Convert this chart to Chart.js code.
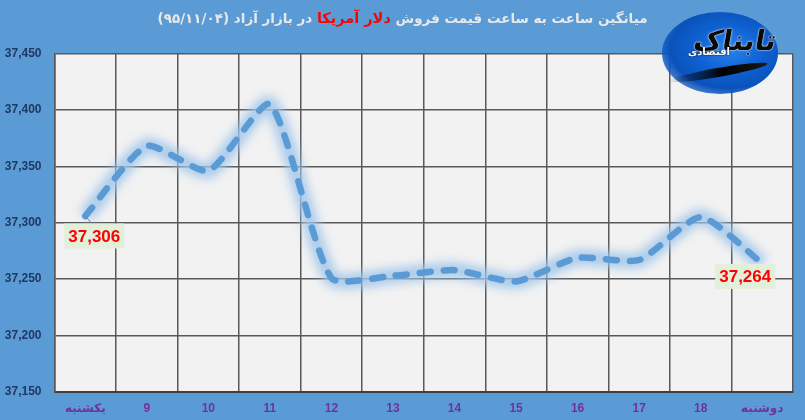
<!DOCTYPE html>
<html>
<head>
<meta charset="utf-8">
<script src="https://cdn.jsdelivr.net/npm/chart.js@4.4.1/dist/chart.umd.min.js"></script>
<style>
  html, body { margin:0; padding:0; background:#5B9BD5; }
  #wrap { position:relative; width:805px; height:420px; overflow:hidden; }
  #c { position:absolute; left:0; top:0; }
  #title { position:absolute; left:0; top:10px; width:805px; text-align:center; direction:rtl;
           font-family:"DejaVu Sans", sans-serif; font-weight:bold; font-size:13.5px; color:#E8E8E8; white-space:nowrap; }
  #title .red { color:#FF0000; font-size:14.5px; }
  #logo { position:absolute; left:662px; top:12px; width:116px; height:82px; border-radius:50%;
          background:radial-gradient(ellipse at 58% 45%, #2a86ee 0%, #0f62d2 35%, #0a52bb 62%, rgba(40,110,210,0.6) 85%, rgba(91,155,213,0) 100%); }
  #logo .big { position:absolute; right:2px; top:12px; font-family:"DejaVu Sans", sans-serif; font-weight:bold;
               font-size:28px; color:#0a0a0a; direction:rtl; text-shadow:0 0 2px #fff, 0 0 1px #fff; transform:skewX(-10deg); }
  #logo .small { position:absolute; left:26px; top:34px; font-family:"DejaVu Sans", sans-serif; font-weight:bold;
                 font-size:10px; color:#fff; direction:rtl; text-shadow:0 0 2px #000; z-index:2; }
  #logo .swoosh { position:absolute; left:6px; top:56px; width:100px; height:9px; border-radius:50%;
                  background:linear-gradient(90deg, rgba(0,0,0,0), #000 55%, #1a1a1a); transform:rotate(-10deg); }
</style>
</head>
<body>
<div id="wrap">
  <canvas id="c" width="805" height="420"></canvas>
  <div id="title">میانگین ساعت به ساعت قیمت فروش <span class="red">دلار آمریکا</span> در بازار آزاد (۹۵/۱۱/۰۴)</div>
  <div id="logo"><div class="swoosh"></div><div class="big">تابناک</div><div class="small">اقتصادی</div></div>
</div>
<script>
const categories = ['یکشنبه','9','10','11','12','13','14','15','16','17','18','دوشنبه'];
const prices = [37306, 37368, 37346, 37405, 37251, 37253, 37258, 37248, 37269, 37267, 37305, 37264];
const yMin = 37150;
const yMax = 37450;
const yStep = 50;
const labelledPoints = [0, prices.length - 1];

const bgPlugin = {
  id: 'bg',
  beforeDraw(chart) {
    const ctx = chart.ctx, a = chart.chartArea;
    ctx.save();
    ctx.fillStyle = '#5B9BD5';
    ctx.fillRect(0, 0, chart.width, chart.height);
    ctx.fillStyle = '#F2F2F2';
    ctx.fillRect(a.left, a.top, a.right - a.left, a.bottom - a.top);
    ctx.restore();
  }
};

const glowPlugin = {
  id: 'glow',
  beforeDatasetDraw(chart, args) {
    if (args.index === 1) { chart.ctx.save(); chart.ctx.filter = 'blur(5px)'; }
  },
  afterDatasetDraw(chart, args) {
    if (args.index === 1) { chart.ctx.restore(); }
  }
};

const labelPlugin = {
  id: 'vlabels',
  afterDatasetsDraw(chart) {
    const ctx = chart.ctx;
    const meta = chart.getDatasetMeta(0);
    const offs = { 0: [9, 20], [prices.length - 1]: [-17, 13] };
    labelledPoints.forEach(i => {
      const p = meta.data[i];
      const [dx, dy] = offs[i];
      const cx = p.x + dx, cy = p.y + dy;
      const text = prices[i].toLocaleString('en-US');
      ctx.save();
      if (i === 0) {
        ctx.strokeStyle = '#808080'; ctx.lineWidth = 1;
        ctx.beginPath(); ctx.moveTo(p.x, p.y); ctx.lineTo(cx - 2, cy - 12); ctx.stroke();
      }
      ctx.fillStyle = '#E2EFDA';
      ctx.fillRect(cx - 30, cy - 12.5, 60, 25);
      ctx.fillStyle = '#FF0000';
      ctx.font = 'bold 17px "Liberation Sans", Arial, sans-serif';
      ctx.textAlign = 'center'; ctx.textBaseline = 'middle';
      ctx.fillText(text, cx, cy + 1);
      ctx.restore();
    });
  }
};

new Chart(document.getElementById('c'), {
  type: 'line',
  data: {
    labels: categories,
    datasets: [
      {
        data: prices,
        borderColor: '#5B9BD5',
        borderWidth: 6.5,
        borderDash: [11, 13],
        borderCapStyle: 'round',
        borderJoinStyle: 'round',
        tension: 0.2,
        pointRadius: 0,
        fill: false,
        order: 1
      },
      {
        data: prices,
        borderColor: 'rgba(160,198,234,0.85)',
        borderWidth: 16,
        tension: 0.2,
        pointRadius: 0,
        fill: false,
        order: 2
      }
    ]
  },
  options: {
    responsive: false,
    animation: false,
    layout: { padding: { left: 0, right: 12, top: 53.5, bottom: 0 } },
    plugins: { legend: { display: false }, tooltip: { enabled: false }, title: { display: false } },
    scales: {
      x: {
        offset: true,
        grid: { offset: true, color: '#595959', lineWidth: 1.5, drawTicks: false },
        border: { color: '#404040', width: 2 },
        ticks: {
          color: '#7030A0', padding: 9, maxRotation: 0,
          font: { family: '"Liberation Sans", "DejaVu Sans", sans-serif', size: 12, weight: 'bold' }
        },
        afterFit(s) { s.height = 28; }
      },
      y: {
        min: yMin, max: yMax,
        grid: { color: '#595959', lineWidth: 1.5, drawTicks: false },
        border: { color: '#595959', width: 1.5 },
        ticks: {
          stepSize: yStep, color: '#1F3864', padding: 13,
          font: { family: '"Liberation Sans", sans-serif', size: 12, weight: 'bold' },
          callback: v => Number(v).toLocaleString('en-US')
        },
        afterFit(s) { s.width = 54.5; }
      }
    }
  },
  plugins: [bgPlugin, glowPlugin, labelPlugin]
});
</script>
</body>
</html>
